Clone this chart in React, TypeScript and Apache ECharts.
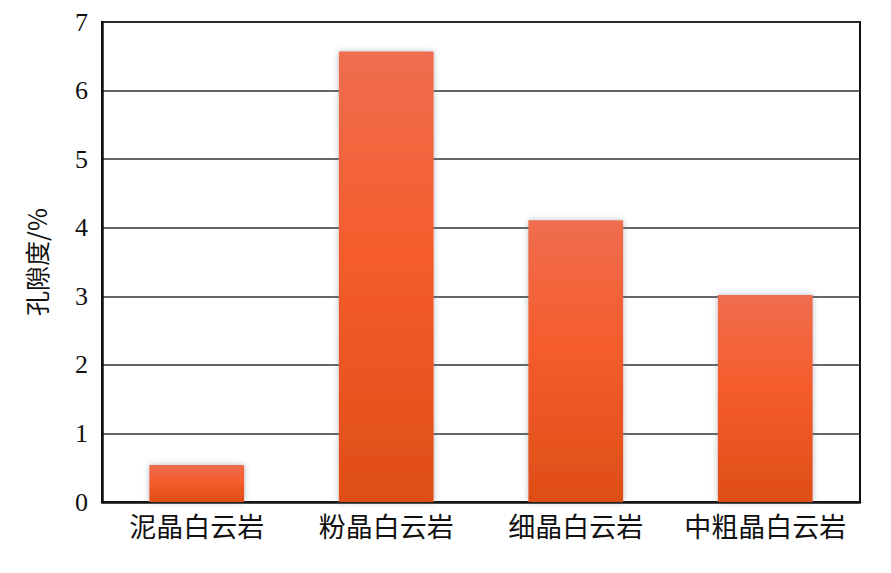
import React, { useEffect, useRef } from "react";
import * as echarts from "echarts";

const categories = ["泥晶白云岩", "粉晶白云岩", "细晶白云岩", "中粗晶白云岩"];
const porosity = [0.54, 6.57, 4.11, 3.02];
const yAxisName = "孔隙度/%";

export default function App() {
  const ref = useRef<HTMLDivElement>(null);

  useEffect(() => {
    if (!ref.current) return;
    const chart = echarts.init(ref.current, null, { renderer: "svg" });
    chart.setOption({
      animation: false,
      backgroundColor: "#ffffff",
      grid: {
        left: 102,
        right: 31,
        top: 22,
        bottom: 71,
        show: true,
        borderColor: "#111111",
        borderWidth: 2,
        backgroundColor: "transparent",
      },
      xAxis: {
        type: "category",
        data: categories,
        axisTick: { show: false },
        axisLine: { lineStyle: { color: "#111111", width: 2.5 } },
        axisLabel: {
          color: "#111111",
          fontSize: 27,
          fontFamily: "Noto Sans CJK SC",
          margin: 10,
          interval: 0,
        },
      },
      yAxis: {
        type: "value",
        min: 0,
        max: 7,
        interval: 1,
        name: yAxisName,
        nameLocation: "middle",
        nameGap: 54,
        nameRotate: 90,
        nameTextStyle: {
          color: "#111111",
          fontSize: 25,
          fontFamily: "Noto Sans CJK SC",
        },
        axisTick: { show: false },
        axisLine: { show: true, lineStyle: { color: "#111111", width: 2.5 } },
        axisLabel: {
          color: "#111111",
          fontSize: 26,
          fontFamily: "Liberation Serif",
          margin: 14,
        },
        splitLine: { lineStyle: { color: "#2f3538", width: 1.6 } },
      },
      series: [
        {
          type: "bar",
          data: porosity,
          barWidth: "50%",
          itemStyle: {
            color: new echarts.graphic.LinearGradient(0, 0, 0, 1, [
              { offset: 0, color: "#ef6e52" },
              { offset: 0.08, color: "#f06a48" },
              { offset: 0.45, color: "#f55c2c" },
              { offset: 1, color: "#de4e16" },
            ]),
            shadowColor: "rgba(90, 110, 120, 0.45)",
            shadowBlur: 6,
          },
        },
      ],
    });
    return () => chart.dispose();
  }, []);

  return (
    <div
      ref={ref}
      style={{ position: "fixed", left: 0, top: 0, width: 891, height: 573 }}
    />
  );
}
